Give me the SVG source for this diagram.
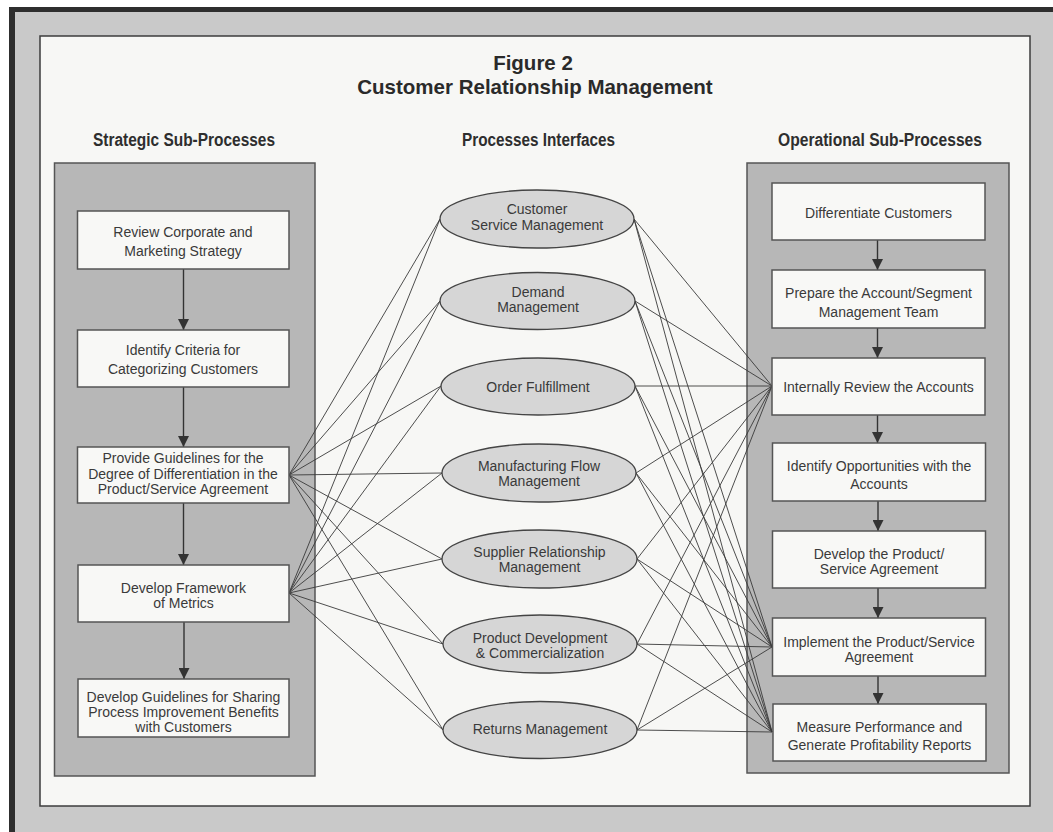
<svg xmlns="http://www.w3.org/2000/svg" width="1053" height="832" viewBox="0 0 1053 832">
<style>
.bg{fill:#c9c9c9}
.frame{fill:#2e2e2e}
.panel{fill:#f7f7f5;stroke:#3c3c3c;stroke-width:1.5}
.lane{fill:#b7b7b7;stroke:#555;stroke-width:1.5}
.box{fill:#f8f8f6;stroke:#555;stroke-width:1.5}
.ell{fill:#d6d6d6;stroke:#444;stroke-width:1.3}
.t{font-family:"Liberation Sans",Arial,sans-serif;font-size:14px;fill:#3a3a3a;text-anchor:middle}
.h{font-family:"Liberation Sans",Arial,sans-serif;font-size:18px;font-weight:bold;fill:#2e2e2e;text-anchor:middle}
.title{font-family:"Liberation Sans",Arial,sans-serif;font-size:20.5px;font-weight:bold;fill:#2a2a2a;text-anchor:middle}
.c{stroke:#3a3a3a;stroke-width:0.9;fill:none}
.a{stroke:#333;stroke-width:1.4;fill:none;marker-end:url(#arr)}
</style>
<defs>
<marker id="arr" markerUnits="userSpaceOnUse" markerWidth="11" markerHeight="11" viewBox="0 0 10 10" refX="10" refY="5" orient="auto">
<path d="M0,0 L10,5 L0,10 z" fill="#333"/>
</marker>
</defs>

<g id="background">
<rect x="0" y="0" width="1053" height="832" fill="#ffffff"/>
<rect x="9" y="7" width="1044" height="825" class="bg"/>
<rect x="9" y="7" width="1044" height="5" class="frame"/>
<rect x="9" y="7" width="6" height="825" class="frame"/>
<rect x="40" y="36" width="990" height="770" class="panel"/>
<rect x="54.5" y="163" width="260.5" height="613" class="lane"/>
<rect x="747" y="163" width="262" height="610" class="lane"/>
</g>

<g id="titles">
<text class="title" x="533" y="70">Figure 2</text>
<text class="title" x="535" y="94">Customer Relationship Management</text>
<text class="h" x="184" y="146" textLength="182" lengthAdjust="spacingAndGlyphs">Strategic Sub-Processes</text>
<text class="h" x="538.5" y="146" textLength="153" lengthAdjust="spacingAndGlyphs">Processes Interfaces</text>
<text class="h" x="880" y="146" textLength="204" lengthAdjust="spacingAndGlyphs">Operational Sub-Processes</text>
</g>

<g id="connectors">
<line class="c" x1="289" y1="475" x2="440" y2="219"/>
<line class="c" x1="289" y1="475" x2="440" y2="301"/>
<line class="c" x1="289" y1="475" x2="441" y2="386"/>
<line class="c" x1="289" y1="475" x2="442" y2="473"/>
<line class="c" x1="289" y1="475" x2="442" y2="559"/>
<line class="c" x1="289" y1="475" x2="443" y2="644"/>
<line class="c" x1="289" y1="475" x2="443" y2="730"/>
<line class="c" x1="289" y1="593" x2="440" y2="219"/>
<line class="c" x1="289" y1="593" x2="440" y2="301"/>
<line class="c" x1="289" y1="593" x2="441" y2="386"/>
<line class="c" x1="289" y1="593" x2="442" y2="473"/>
<line class="c" x1="289" y1="593" x2="442" y2="559"/>
<line class="c" x1="289" y1="593" x2="443" y2="644"/>
<line class="c" x1="289" y1="593" x2="443" y2="730"/>

<line class="c" x1="634" y1="219" x2="772" y2="386"/>
<line class="c" x1="634" y1="219" x2="772" y2="647"/>
<line class="c" x1="634" y1="219" x2="772" y2="732"/>
<line class="c" x1="635" y1="301" x2="772" y2="386"/>
<line class="c" x1="635" y1="301" x2="772" y2="647"/>
<line class="c" x1="635" y1="301" x2="772" y2="732"/>
<line class="c" x1="635" y1="386" x2="772" y2="386"/>
<line class="c" x1="635" y1="386" x2="772" y2="647"/>
<line class="c" x1="635" y1="386" x2="772" y2="732"/>
<line class="c" x1="636" y1="473" x2="772" y2="386"/>
<line class="c" x1="636" y1="473" x2="772" y2="647"/>
<line class="c" x1="636" y1="473" x2="772" y2="732"/>
<line class="c" x1="637" y1="559" x2="772" y2="386"/>
<line class="c" x1="637" y1="559" x2="772" y2="647"/>
<line class="c" x1="637" y1="559" x2="772" y2="732"/>
<line class="c" x1="637" y1="644" x2="772" y2="386"/>
<line class="c" x1="637" y1="644" x2="772" y2="647"/>
<line class="c" x1="637" y1="644" x2="772" y2="732"/>
<line class="c" x1="637" y1="730" x2="772" y2="386"/>
<line class="c" x1="637" y1="730" x2="772" y2="647"/>
<line class="c" x1="637" y1="730" x2="772" y2="732"/>

<line class="a" x1="183.5" y1="269" x2="183.5" y2="330"/>
<line class="a" x1="183.5" y1="387" x2="183.5" y2="447"/>
<line class="a" x1="183.5" y1="503" x2="183.5" y2="565"/>
<line class="a" x1="184" y1="622" x2="184" y2="679"/>

<line class="a" x1="877.5" y1="240" x2="877.5" y2="270"/>
<line class="a" x1="877.5" y1="328" x2="877.5" y2="358"/>
<line class="a" x1="877.5" y1="415" x2="877.5" y2="443"/>
<line class="a" x1="878" y1="501" x2="878" y2="531"/>
<line class="a" x1="878" y1="588" x2="878" y2="618"/>
<line class="a" x1="878" y1="676" x2="878" y2="704"/>
</g>

<g id="s1"><rect class="box" x="77.5" y="211" width="211.5" height="58"/>
<text class="t" x="183" y="236.5">Review Corporate and</text><text class="t" x="183" y="255.5">Marketing Strategy</text></g>
<g id="s2"><rect class="box" x="77.5" y="330" width="211.5" height="57"/>
<text class="t" x="183" y="355">Identify Criteria for</text><text class="t" x="183" y="373.5">Categorizing Customers</text></g>
<g id="s3"><rect class="box" x="77.5" y="447" width="211.5" height="56"/>
<text class="t" x="183" y="463">Provide Guidelines for the</text><text class="t" x="183" y="478.5">Degree of Differentiation in the</text><text class="t" x="183" y="494">Product/Service Agreement</text></g>
<g id="s4"><rect class="box" x="78" y="565" width="211" height="57"/>
<text class="t" x="183.5" y="593">Develop Framework</text><text class="t" x="183.5" y="608">of Metrics</text></g>
<g id="s5"><rect class="box" x="78" y="679" width="211" height="58"/>
<text class="t" x="183.5" y="701.5">Develop Guidelines for Sharing</text><text class="t" x="183.5" y="716.5">Process Improvement Benefits</text><text class="t" x="183.5" y="731.5">with Customers</text></g>

<g id="p1"><ellipse class="ell" cx="537" cy="219" rx="97" ry="29"/>
<text class="t" x="537" y="214">Customer</text><text class="t" x="537" y="230">Service Management</text></g>
<g id="p2"><ellipse class="ell" cx="537.5" cy="301" rx="97.5" ry="28.5"/>
<text class="t" x="538" y="297">Demand</text><text class="t" x="538" y="312">Management</text></g>
<g id="p3"><ellipse class="ell" cx="538" cy="386.5" rx="97" ry="28.5"/>
<text class="t" x="538" y="392">Order Fulfillment</text></g>
<g id="p4"><ellipse class="ell" cx="539" cy="473" rx="97" ry="29"/>
<text class="t" x="539" y="471">Manufacturing Flow</text><text class="t" x="539" y="486">Management</text></g>
<g id="p5"><ellipse class="ell" cx="539.5" cy="559" rx="97.5" ry="29"/>
<text class="t" x="539.5" y="557">Supplier Relationship</text><text class="t" x="539.5" y="572">Management</text></g>
<g id="p6"><ellipse class="ell" cx="540" cy="644" rx="97" ry="29"/>
<text class="t" x="540" y="642.5">Product Development</text><text class="t" x="540" y="658">&amp; Commercialization</text></g>
<g id="p7"><ellipse class="ell" cx="540" cy="730" rx="97" ry="28.5"/>
<text class="t" x="540" y="734">Returns Management</text></g>

<g id="o1"><rect class="box" x="772" y="183" width="213" height="57"/>
<text class="t" x="878.5" y="218">Differentiate Customers</text></g>
<g id="o2"><rect class="box" x="772" y="270" width="213" height="58"/>
<text class="t" x="878.5" y="298">Prepare the Account/Segment</text><text class="t" x="878.5" y="316.5">Management Team</text></g>
<g id="o3"><rect class="box" x="772" y="358" width="213" height="57"/>
<text class="t" x="878.5" y="391.5">Internally Review the Accounts</text></g>
<g id="o4"><rect class="box" x="772.5" y="443" width="213" height="58"/>
<text class="t" x="879" y="470.5">Identify Opportunities with the</text><text class="t" x="879" y="489">Accounts</text></g>
<g id="o5"><rect class="box" x="772.5" y="531" width="213" height="57"/>
<text class="t" x="879" y="559">Develop the Product/</text><text class="t" x="879" y="574">Service Agreement</text></g>
<g id="o6"><rect class="box" x="772.5" y="618" width="213" height="58"/>
<text class="t" x="879" y="646.5">Implement the Product/Service</text><text class="t" x="879" y="662">Agreement</text></g>
<g id="o7"><rect class="box" x="773" y="704" width="213" height="57"/>
<text class="t" x="879.5" y="731.5">Measure Performance and</text><text class="t" x="879.5" y="749.5">Generate Profitability Reports</text></g>
</svg>
